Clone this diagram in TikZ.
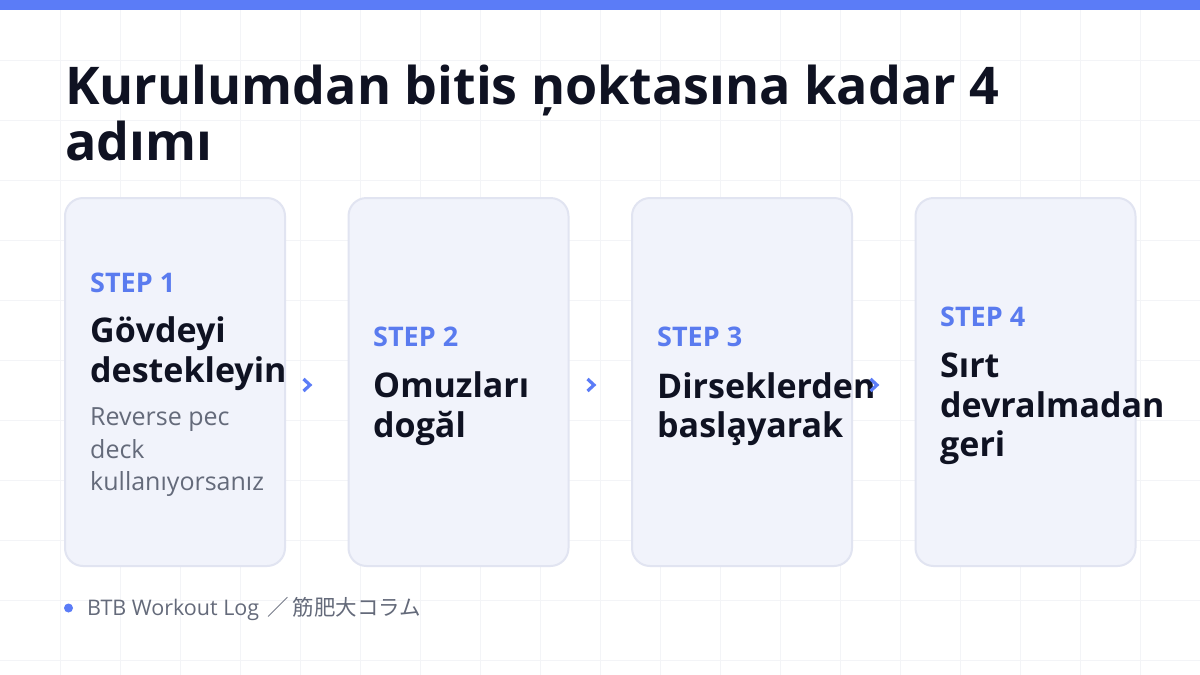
\documentclass[tikz,border=0pt]{standalone}
\usepackage{fontspec}
\setmainfont{Open Sans}
\newfontfamily\cjkfont{Noto Sans CJK JP}
\newcommand\cedunder[1]{\setbox0\hbox{#1}\rlap{#1}\hbox to\wd0{\hss ¸\hss}}
\definecolor{accent}{HTML}{5B7CF7}
\definecolor{stepblue}{HTML}{5A7BEF}
\definecolor{ink}{HTML}{0F1222}
\definecolor{muted}{HTML}{646A7A}
\definecolor{gridc}{HTML}{F3F4F7}
\definecolor{cardfill}{HTML}{F1F3FB}
\definecolor{cardline}{HTML}{E1E4F1}
\tikzset{
  card/.style={draw=cardline, line width=2pt, fill=cardfill, rounded corners=18pt,
    minimum width=220pt, minimum height=368pt, inner sep=0pt},
  steplabel/.style={anchor=base west, inner sep=0pt, text=stepblue,
    font=\fontsize{27}{27}\selectfont\bfseries},
  steptitle/.style={anchor=base west, inner sep=0pt, text=ink,
    font=\fontsize{34}{40}\selectfont\bfseries},
  stepdesc/.style={anchor=base west, inner sep=0pt, text=muted,
    font=\fontsize{25}{32}\selectfont},
  headline/.style={anchor=base west, inner sep=0pt, text=ink,
    font=\fontsize{52}{56}\selectfont\bfseries},
  chev/.style={draw=accent, line width=3.2pt, line join=miter},
}
\begin{document}
\begin{tikzpicture}[x=1pt,y=-1pt]
\useasboundingbox (0,0) rectangle (1200,675);
\fill[white] (0,0) rectangle (1200,675);
\foreach \x in {60,120,...,1140} \draw[gridc, line width=1pt] (\x,10) -- (\x,675);
\foreach \y in {60,120,...,660} \draw[gridc, line width=1pt] (0,\y) -- (1200,\y);
\fill[accent] (0,0) rectangle (1200,10);

% headline
\node[headline] (h1) at (65,104) {Kurulumdan bitis ņoktasına kadar 4};
\node[headline] (h2) at (65,160) {adımı};

% cards
\node[card] (c1) at (175,382) {};
\node[card] (c2) at (458.5,382) {};
\node[card] (c3) at (742,382) {};
\node[card] (c4) at (1025.5,382) {};

% card 1
\node[steplabel] (s1) at (90,292) {STEP 1};
\node[steptitle] (t1a) at (90,342) {Gövdeyi};
\node[steptitle] (t1b) at (90,382) {destekleyin};
\node[stepdesc] (d1a) at (90,425) {Reverse pec};
\node[stepdesc] (d1b) at (90,458) {deck};
\node[stepdesc] (d1c) at (90,490) {kullanıyorsanız};

% card 2
\node[steplabel] (s2) at (373,346) {STEP 2};
\node[steptitle] (t2a) at (373,397) {Omuzları};
\node[steptitle] (t2b) at (373,437) {dogăl};

% card 3
\node[steplabel] (s3) at (657,346) {STEP 3};
\node[steptitle] (t3a) at (657,398) {Dirseklerden};
\node[steptitle] (t3b) at (657,437) {basl\cedunder{a}yarak};

% card 4
\node[steplabel] (s4) at (940,326) {STEP 4};
\node[steptitle] (t4a) at (940,377) {Sırt};
\node[steptitle] (t4b) at (940,417) {devralmadan};
\node[steptitle] (t4c) at (940,456) {geri};

% chevrons
\foreach \n/\cx in {1/307,2/591,3/874}{
  \coordinate (k\n) at (\cx,385);
  \draw[chev] ([shift={(-3.5,-6)}]k\n) -- ([shift={(3,0)}]k\n) -- ([shift={(-3.5,6)}]k\n);
}

% footer
\fill[accent] (68.5,608) circle (4.5);
\node[anchor=base west, inner sep=0pt, text=muted, font=\fontsize{21.5}{22}\selectfont] (ft) at (87,615)
  {BTB Workout Log\hspace{8pt}{\cjkfont ／\hspace{4pt}筋肥大コラム}};
\end{tikzpicture}
\end{document}
